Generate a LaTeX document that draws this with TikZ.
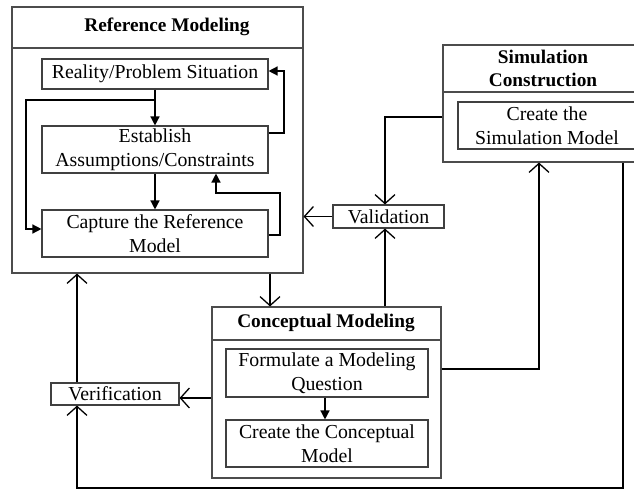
\documentclass[tikz,border=0pt]{standalone}
\usepackage{fontspec}
\setmainfont{Liberation Serif}
\usetikzlibrary{arrows.meta,calc}
\begin{document}
\begin{tikzpicture}[x=1pt,y=-1pt,
  box/.style={draw=black!75,line width=1.1pt,minimum width=#1,inner sep=0pt,align=center,
     font=\fontsize{19.8}{23.5}\selectfont},
  frame/.style={draw=black!70,line width=1.1pt},
  ttl/.style={align=center,font=\fontsize{19.3}{23}\selectfont\bfseries},
  farr/.style={line width=1.4pt,-{Triangle[length=9pt,width=9pt]}},
  oarr/.style={line width=1.6pt,-{Straight Barb[length=9pt,width=20pt,line width=1.3pt]}}]
\useasboundingbox (0,0) rectangle (634,489);
\clip (0,0) rectangle (634,489);
\fill[white] (0,0) rectangle (634,489);

% Reference Modeling
\node[frame,minimum width=291pt,minimum height=266pt,inner sep=0pt] (refm) at (157.5,140) {};
\draw[frame] (12,48) -- (303,48);
\node[ttl] (reft) at (167,27) {Reference Modeling};
\node[box=226pt,minimum height=30pt] (reality) at (155,74) {Reality/Problem Situation};
\node[box=226pt,minimum height=47pt] (establish) at (155,149.5) {Establish\\Assumptions/Constraints};
\node[box=226pt,minimum height=47pt] (capture) at (155,233.5) {Capture the Reference\\Model};

% Simulation Construction
\node[frame,minimum width=207pt,minimum height=117pt,inner sep=0pt] (simm) at (546.5,103.5) {};
\draw[frame] (443,92) -- (650,92);
\node[ttl] (simt) at (543,68) {Simulation\\Construction};
\node[box=178pt,minimum height=47pt] (simmodel) at (547,125.5) {Create the\\Simulation Model};

% Validation / Verification
\node[box=111pt,minimum height=23pt] (valid) at (388.5,216.5) {Validation};
\node[box=128pt,minimum height=22pt] (verif) at (115,394) {Verification};

% Conceptual Modeling
\node[frame,minimum width=229pt,minimum height=171pt,inner sep=0pt] (concm) at (326.5,392.5) {};
\draw[frame] (212,340) -- (441,340);
\node[ttl] (conct) at (326,323) {Conceptual Modeling};
\node[box=202pt,minimum height=48pt] (formq) at (327,373) {Formulate a Modeling\\Question};
\node[box=202pt,minimum height=47pt] (cmodel) at (327,443.5) {Create the Conceptual\\Model};

% bend points
\coordinate (b1) at (155,100);
\coordinate (b2) at (26,100);
\coordinate (b3) at (26,229);
\coordinate (e1) at (284,133);
\coordinate (e2) at (284,71);
\coordinate (c1) at (280,235);
\coordinate (c2) at (280,193);
\coordinate (c3) at (216,193);
\coordinate (s1) at (385,117);
\coordinate (k1) at (539,369);
\coordinate (r1) at (623,488);
\coordinate (r2) at (77,488);

% inner filled arrows
\draw[farr] (reality.south) -- (establish.north);
\draw[farr] (b1) -- (b2) -- (b3) -- (capture.west |- b3);
\draw[farr] (establish.east |- e1) -- (e1) -- (e2) -- (reality.east |- e2);
\draw[farr] (establish.south) -- (capture.north);
\draw[farr] (capture.east |- c1) -- (c1) -- (c2) -- (c3) -- (establish.south -| c3);
\draw[farr] (formq.south -| 325,0) -- (cmodel.north -| 325,0);

% outer open arrows
\draw[oarr] (simm.west |- s1) -- (s1) -- (valid.north -| s1);
\draw[oarr] (valid.west) -- (refm.east |- valid.west);
\draw[oarr] (concm.north -| s1) -- (valid.south -| s1);
\draw[oarr] (refm.south -| 270,0) -- (concm.north -| 270,0);
\draw[oarr] (concm.east |- k1) -- (k1) -- (simm.south -| k1);
\draw[oarr] (simm.south -| r1) -- (r1) -- (r2) -- (verif.south -| r2);
\draw[oarr] (verif.north -| r2) -- (refm.south -| r2);
\draw[oarr] (concm.west |- 0,398) -- (verif.east |- 0,398);
\end{tikzpicture}
\end{document}
